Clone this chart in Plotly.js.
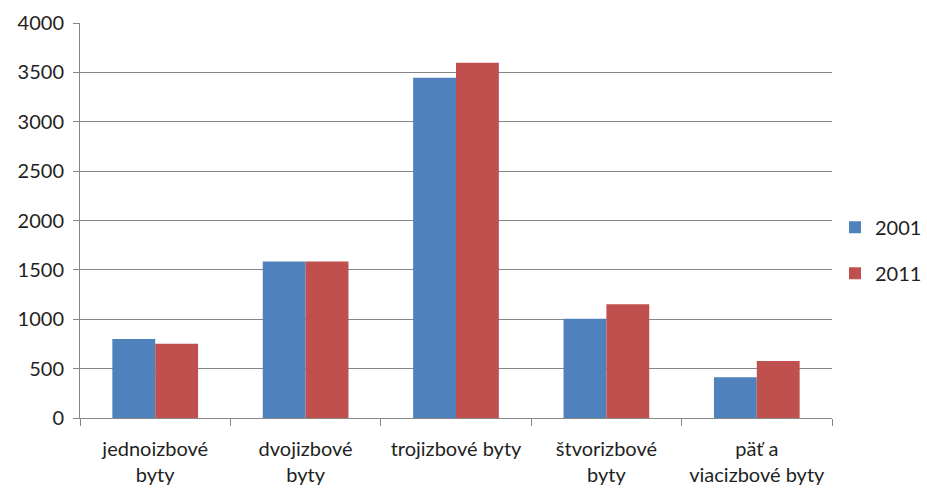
<!DOCTYPE html>
<html>
<head>
<meta charset="utf-8">
<script src="https://cdn.plot.ly/plotly-3.0.1.min.js"></script>
<style>
  html, body { margin: 0; padding: 0; background: #ffffff; }
  #chart { width: 927px; height: 489px; }
</style>
</head>
<body>
<div id="chart"></div>
<script>
// Počet bytov podľa počtu izieb
const categories = [
  "jednoizbové<br>byty",
  "dvojizbové<br>byty",
  "trojizbové byty",
  "štvorizbové<br>byty",
  "päť a<br>viacizbové byty"
];
const values2001 = [800, 1585, 3445, 1005, 412];
const values2011 = [752, 1585, 3598, 1151, 577];
const yTicks = [0, 500, 1000, 1500, 2000, 2500, 3000, 3500, 4000];

const font = { family: "Lato, 'Open Sans', sans-serif", size: 20, color: "#1f1f1f" };

const traces = [
  {
    type: "bar", name: "2001", x: categories, y: values2001,
    marker: { color: "#4F81BD" }, legendgroup: "a", hoverinfo: "x+y"
  },
  {
    type: "bar", name: "2011", x: categories, y: values2011,
    marker: { color: "#C0504D" }, legendgroup: "b", hoverinfo: "x+y"
  }
];

// plot area: 752 px wide out of 847 px available to the right of the y axis
const layout = {
  width: 927, height: 489,
  margin: { l: 80, r: 0, t: 23, b: 71, pad: 0 },
  paper_bgcolor: "#ffffff", plot_bgcolor: "#ffffff",
  font: font,
  barmode: "group",
  bargap: 0.43, bargroupgap: 0,
  showlegend: true,
  legend: {
    x: 0.8915, xanchor: "left", y: 0.425, yanchor: "middle",
    traceorder: "grouped", tracegroupgap: 17,
    font: font, bgcolor: "rgba(0,0,0,0)"
  },
  xaxis: {
    type: "category", domain: [0, 752 / 847],
    showgrid: false, zeroline: false,
    showline: true, linecolor: "#868686", linewidth: 1,
    ticks: "outside", tickson: "boundaries", ticklen: 7, tickcolor: "#868686",
    tickfont: font, tickangle: 0, ticklabelstandoff: 13, automargin: false
  },
  yaxis: {
    range: [0, 4000], tickvals: yTicks, ticktext: yTicks.map(String),
    showgrid: true, gridcolor: "#868686", gridwidth: 1,
    zeroline: false,
    showline: true, linecolor: "#868686", linewidth: 1,
    ticks: "outside", ticklen: 6, tickcolor: "#868686",
    tickfont: font, ticklabelstandoff: 5, automargin: false
  }
};

Plotly.newPlot("chart", traces, layout, { displayModeBar: false, staticPlot: true });
</script>
</body>
</html>
